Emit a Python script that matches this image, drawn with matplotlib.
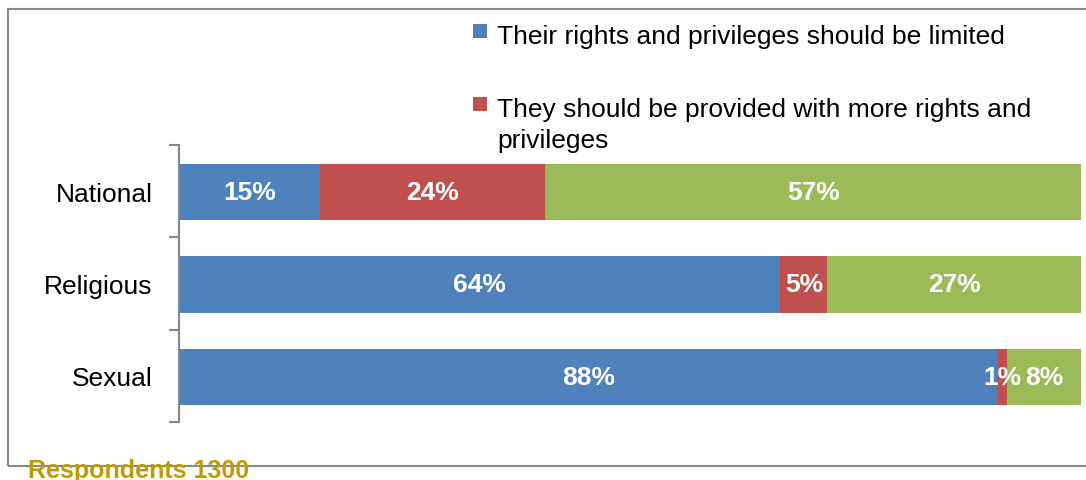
import matplotlib
matplotlib.use("Agg")
import matplotlib.pyplot as plt
from matplotlib.patches import Rectangle
import numpy as np

plt.rcParams['font.family'] = ['Liberation Sans', 'DejaVu Sans']

# survey answers per minority group (percent of respondents)
groups = ["National", "Religious", "Sexual"]
limited = [15, 64, 88]
more_rights = [24, 5, 1]
other = [57, 27, 8]
series_names = [
    "Their rights and privileges should be limited",
    "They should be provided with more rights and\nprivileges",
    "Other",
]
colors = ["#4F81BD", "#C0504D", "#9BBB59"]
respondents = 1300

values = np.array([limited, more_rights, other], dtype=float)
shares = values / values.sum(axis=0)  # 100% stacked

W, H = 1086, 481
fig = plt.figure(figsize=(W / 100, H / 100), dpi=100)
ax = fig.add_axes([179 / W, 1 - 423 / H, 902 / W, 277 / H])

y = np.arange(len(groups))
left = np.zeros(len(groups))
for i in range(len(values)):
    ax.barh(y + 0.01, shares[i], left=left, height=0.61, color=colors[i],
            edgecolor="none", label=series_names[i])
    for j in range(len(groups)):
        ax.text(left[j] + shares[i][j] / 2, y[j] + 0.01, f"{values[i][j]:.0f}%",
                ha="center", va="center", color="white", fontsize=19,
                fontweight="bold")
    left += shares[i]

ax.set_xlim(0, 1)
ax.set_ylim(2.5, -0.5)
ax.set_yticks(y)
ax.set_yticklabels(groups, fontsize=19)
ax.set_yticks(np.arange(-0.5, len(groups)), minor=True)
ax.tick_params(axis="y", which="major", length=0, pad=19)
ax.tick_params(axis="y", which="minor", length=7, width=1.5, color="#868686")
ax.set_xticks([])
for side in ["top", "right", "bottom"]:
    ax.spines[side].set_visible(False)
ax.spines["left"].set_color("#868686")
ax.spines["left"].set_linewidth(1.5)

# legend: only the first two entries fit above the plot
legend_rows = [(25, [44]), (98, [117, 148])]
for k, (sq_top, baselines) in enumerate(legend_rows):
    fig.patches.append(Rectangle((473 / W, 1 - (sq_top + 14) / H), 14 / W, 14 / H,
                                 transform=fig.transFigure,
                                 facecolor=colors[k], edgecolor="none"))
    for line, base in zip(series_names[k].split("\n"), baselines):
        fig.text(497 / W, 1 - base / H, line, ha="left", va="baseline",
                 fontsize=19)

# outer chart frame
fig.patches.append(Rectangle((8 / W, 1 - 467 / H), 1.2, (467 - 10) / H,
                             transform=fig.transFigure, fill=False,
                             edgecolor="#898989", linewidth=1.5, zorder=0))

fig.text(28 / W, 1 - 459 / H, f"Respondents {respondents}", ha="left",
         va="top", fontsize=18, fontweight="bold", color="#C09A00", zorder=5)

fig.savefig("out.png", dpi=100)
